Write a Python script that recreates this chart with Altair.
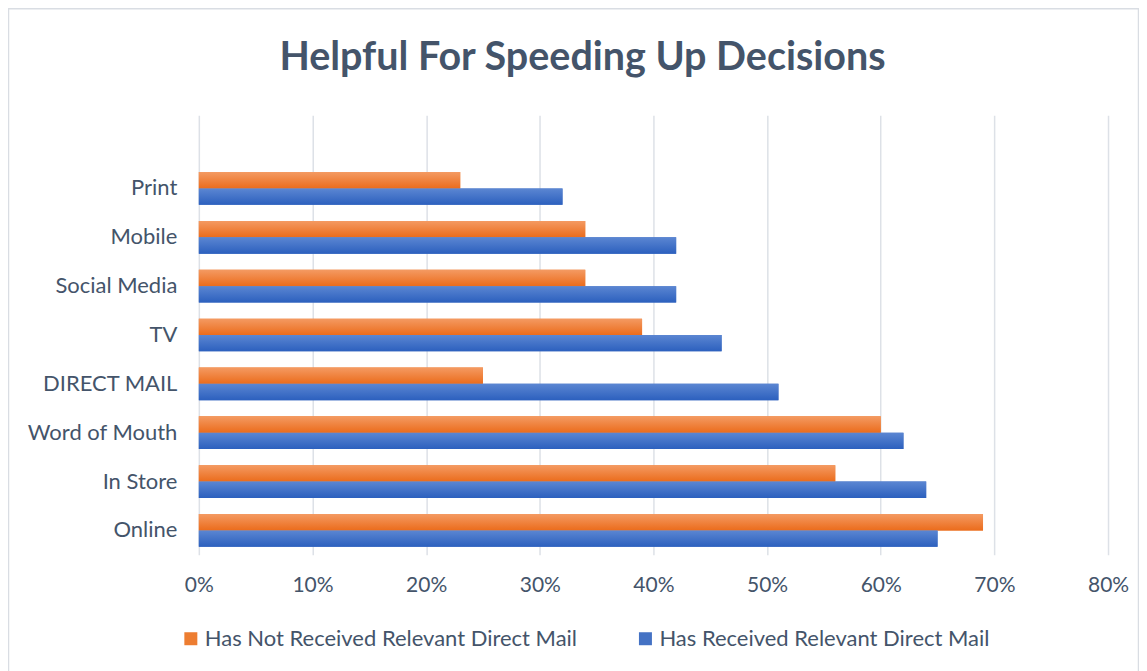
import altair as alt
import pandas as pd

categories = ["Print", "Mobile", "Social Media", "TV", "DIRECT MAIL",
              "Word of Mouth", "In Store", "Online"]
series_names = ["Has Not Received Relevant Direct Mail",
                "Has Received Relevant Direct Mail"]
not_received = [23, 34, 34, 39, 25, 60, 56, 69]
received = [32, 42, 42, 46, 51, 62, 64, 65]
x_ticks = [0, 0.1, 0.2, 0.3, 0.4, 0.5, 0.6, 0.7, 0.8]

rows = []
for c, a, b in zip(categories, not_received, received):
    rows.append({"category": c, "series": series_names[0], "value": a / 100})
    rows.append({"category": c, "series": series_names[1], "value": b / 100})
df = pd.DataFrame(rows)

FONT = "Lato"
TEXT = "#44546A"
ORANGE = "#ED7D31"
BLUE = "#4472C4"

y_domain = [" "] + categories

base = alt.Chart(df).encode(
    x=alt.X("value:Q",
            scale=alt.Scale(domain=[0, 0.8], nice=False),
            axis=alt.Axis(values=x_ticks, format=".0%", title=None,
                          domain=False, ticks=False, labelPadding=20,
                          labelFlush=False,
                          grid=True, gridColor="#DDE1E7", gridWidth=1.5,
                          labelFontSize=21, labelColor=TEXT, labelFont=FONT)),
    y=alt.Y("category:N",
            scale=alt.Scale(domain=y_domain, paddingInner=0.33, paddingOuter=0.165),
            axis=alt.Axis(title=None, domain=False, ticks=False, grid=False,
                          labelPadding=22, labelFontSize=22, labelColor=TEXT,
                          labelFont=FONT)),
    yOffset=alt.YOffset("series:N", scale=alt.Scale(domain=series_names)),
)

legend_layer = base.mark_bar().encode(
    color=alt.Color("series:N",
                    scale=alt.Scale(domain=series_names, range=[ORANGE, BLUE]),
                    legend=alt.Legend(title=None, orient="none", direction="horizontal",
                                      legendX=-19, legendY=513,
                                      symbolType="square", symbolSize=169,
                                      symbolStrokeWidth=0, labelFontSize=22,
                                      labelColor=TEXT, labelFont=FONT,
                                      columnPadding=57, labelOffset=3,
                                      labelLimit=600))
)

orange_grad = alt.Gradient(gradient="linear", x1=0, x2=0, y1=0, y2=1,
                           stops=[alt.GradientStop(color="#F49A62", offset=0),
                                  alt.GradientStop(color="#EB6C1C", offset=1)])
blue_grad = alt.Gradient(gradient="linear", x1=0, x2=0, y1=0, y2=1,
                         stops=[alt.GradientStop(color="#5B86D2", offset=0),
                                alt.GradientStop(color="#2C60BE", offset=1)])

orange_layer = base.transform_filter(
    alt.datum.series == series_names[0]).mark_bar(fill=orange_grad)
blue_layer = base.transform_filter(
    alt.datum.series == series_names[1]).mark_bar(fill=blue_grad)

border = alt.Chart(alt.Data(values=[{}])).mark_rect(
    fill="transparent", stroke="#D9DDE3", strokeWidth=1.5
).encode(x=alt.value(-190.5), x2=alt.value(940.5),
         y=alt.value(-106.5), y2=alt.value(570))

chart = alt.layer(legend_layer, orange_layer, blue_layer, border).properties(
    width=910, height=440,
    padding={"left": 191, "top": 107, "right": 31, "bottom": 116},
    autosize=alt.AutoSizeParams(type="none"),
    title=alt.TitleParams("Helpful For Speeding Up Decisions", font=FONT,
                          fontSize=39.5, fontWeight="bold", color=TEXT,
                          anchor="middle", offset=0, dy=71, dx=-71),
).configure_view(stroke=None)

chart.save("out.html", embed_options={"renderer": "svg", "actions": False})
